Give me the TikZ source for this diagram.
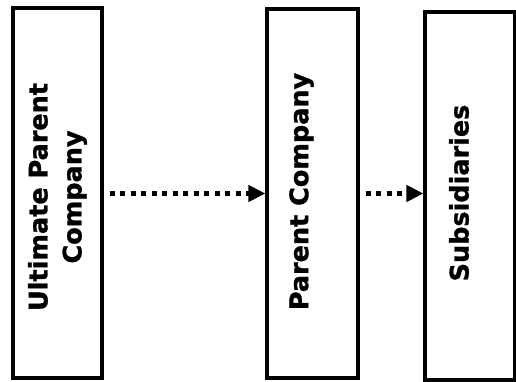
\documentclass[tikz,border=0pt]{standalone}
\usepackage{fontspec}
\setmainfont{DejaVu Sans}
\newfontfamily\boxfont[FakeBold=1.2]{DejaVu Sans Bold}
\usetikzlibrary{arrows.meta}
\tikzset{
  company/.style={draw,line width=3.2pt,minimum width=89pt,inner sep=0pt},
  companytext/.style={rotate=90,align=center,inner sep=0pt,
    font=\boxfont\fontsize{25.5pt}{34pt}\selectfont},
  link/.style={line width=4.5pt,dash pattern=on 5pt off 5.5pt,
    -{Triangle[length=17pt,width=16pt]}}
}
\begin{document}
\begin{tikzpicture}[x=1pt,y=1pt]
      \useasboundingbox (0,0) rectangle (516,382);
      \node[company,minimum height=370pt] (ultimate) at (57.5,189) {};
      \node[company,minimum height=369pt,minimum width=91pt] (parent) at (312.5,188.5) {};
      \node[company,minimum height=368pt,minimum width=90pt] (subs) at (470,186) {};
      \node[companytext] (ultimatename) at ([yshift=-4pt]ultimate) {Ultimate Parent\\Company};
      \node[companytext] (parentname) at ([xshift=-11pt,yshift=2pt]parent) {Parent Company};
      \node[companytext] (subsname) at ([xshift=-11pt,yshift=3pt]subs) {Subsidiaries};
      \begin{scope}[shorten <=6pt]
        \draw[link] (ultimate.east |- parent) to (parent.west);
        \draw[link] (parent.east) to (parent.east -| subs.west);
      \end{scope}
    \end{tikzpicture}
\end{document}
